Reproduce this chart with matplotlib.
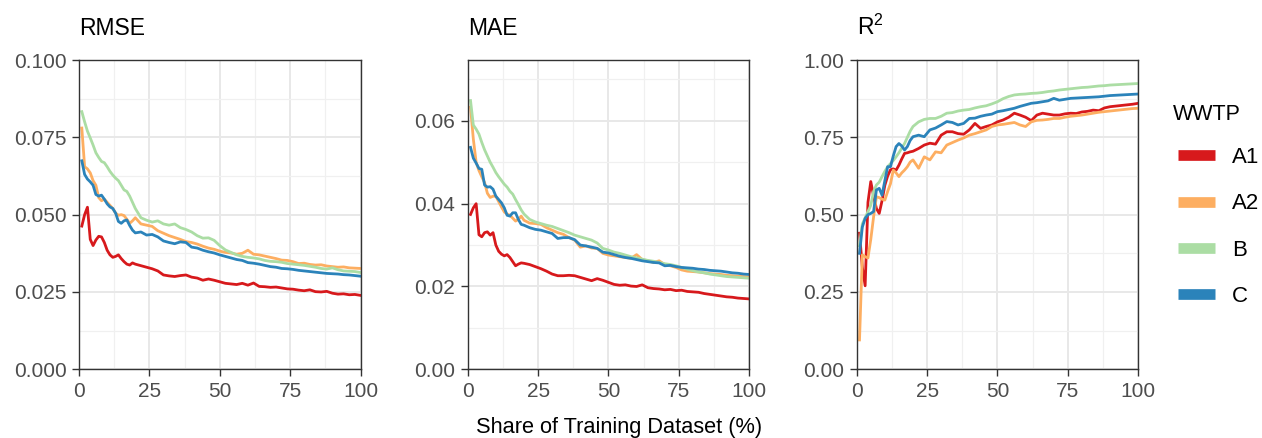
import matplotlib
matplotlib.use("Agg")
import matplotlib.pyplot as plt
from matplotlib.lines import Line2D
from matplotlib.ticker import MultipleLocator, FormatStrFormatter

plt.rcParams['font.family'] = ['Liberation Sans', 'DejaVu Sans']
plt.rcParams['mathtext.fontset'] = 'custom'
plt.rcParams['mathtext.rm'] = 'Liberation Sans'
plt.rcParams['mathtext.it'] = 'Liberation Sans'

# share of the training set (%) at which each model was evaluated
share = list(range(1, 21)) + list(range(22, 101, 2))

wwtp = ['A1', 'A2', 'B', 'C']
colors = ['#D7191C', '#FDAE61', '#ABDDA4', '#2B83BA']

rmse_a1 = [0.0463, 0.0500, 0.0524, 0.0420, 0.0400, 0.0418, 0.0430, 0.0428, 0.0410, 0.0385,
           0.0370, 0.0362, 0.0365, 0.0370, 0.0358, 0.0348, 0.0340, 0.0337, 0.0344, 0.0340,
           0.0335, 0.0330, 0.0325, 0.0318, 0.0305, 0.0302, 0.0300, 0.0303, 0.0305, 0.0298,
           0.0295, 0.0288, 0.0292, 0.0288, 0.0283, 0.0278, 0.0276, 0.0274, 0.0278, 0.0272,
           0.0279, 0.0268, 0.0267, 0.0265, 0.0266, 0.0263, 0.0260, 0.0259, 0.0256, 0.0254,
           0.0257, 0.0251, 0.0250, 0.0252, 0.0246, 0.0243, 0.0244, 0.0241, 0.0242, 0.0239]
rmse_a2 = [0.0780, 0.0655, 0.0648, 0.0635, 0.0610, 0.0595, 0.0555, 0.0545, 0.0550, 0.0540,
           0.0530, 0.0520, 0.0505, 0.0498, 0.0500, 0.0497, 0.0485, 0.0472, 0.0480, 0.0490,
           0.0470, 0.0466, 0.0462, 0.0448, 0.0440, 0.0432, 0.0426, 0.0420, 0.0413, 0.0410,
           0.0405, 0.0398, 0.0392, 0.0388, 0.0382, 0.0378, 0.0376, 0.0372, 0.0375, 0.0385,
           0.0372, 0.0370, 0.0366, 0.0362, 0.0358, 0.0353, 0.0352, 0.0348, 0.0342, 0.0343,
           0.0339, 0.0337, 0.0338, 0.0334, 0.0332, 0.0330, 0.0331, 0.0328, 0.0327, 0.0326]
rmse_b = [0.0833, 0.0800, 0.0770, 0.0748, 0.0725, 0.0700, 0.0685, 0.0672, 0.0668, 0.0655,
          0.0640, 0.0628, 0.0618, 0.0610, 0.0595, 0.0580, 0.0575, 0.0560, 0.0540, 0.0520,
          0.0490, 0.0482, 0.0476, 0.0480, 0.0470, 0.0466, 0.0470, 0.0458, 0.0452, 0.0444,
          0.0432, 0.0424, 0.0425, 0.0417, 0.0400, 0.0386, 0.0378, 0.0370, 0.0365, 0.0362,
          0.0360, 0.0357, 0.0352, 0.0349, 0.0348, 0.0346, 0.0342, 0.0340, 0.0338, 0.0336,
          0.0333, 0.0330, 0.0326, 0.0324, 0.0328, 0.0322, 0.0318, 0.0317, 0.0316, 0.0313]
rmse_c = [0.0674, 0.0630, 0.0615, 0.0606, 0.0595, 0.0565, 0.0560, 0.0563, 0.0550, 0.0535,
          0.0525, 0.0520, 0.0505, 0.0478, 0.0472, 0.0480, 0.0483, 0.0465, 0.0450, 0.0441,
          0.0444, 0.0434, 0.0436, 0.0428, 0.0415, 0.0410, 0.0406, 0.0412, 0.0410, 0.0395,
          0.0392, 0.0385, 0.0380, 0.0376, 0.0370, 0.0365, 0.0360, 0.0355, 0.0352, 0.0345,
          0.0343, 0.0340, 0.0336, 0.0332, 0.0330, 0.0326, 0.0325, 0.0323, 0.0320, 0.0318,
          0.0316, 0.0314, 0.0312, 0.0310, 0.0309, 0.0308, 0.0306, 0.0305, 0.0303, 0.0301]

mae_a1 = [0.0374, 0.0390, 0.0400, 0.0325, 0.0320, 0.0330, 0.0332, 0.0324, 0.0330, 0.0300,
          0.0285, 0.0278, 0.0274, 0.0277, 0.0270, 0.0260, 0.0250, 0.0254, 0.0257, 0.0256,
          0.0253, 0.0248, 0.0243, 0.0237, 0.0230, 0.0226, 0.0226, 0.0227, 0.0226, 0.0222,
          0.0218, 0.0214, 0.0219, 0.0215, 0.0210, 0.0205, 0.0203, 0.0204, 0.0201, 0.0200,
          0.0204, 0.0197, 0.0195, 0.0194, 0.0192, 0.0193, 0.0190, 0.0191, 0.0188, 0.0187,
          0.0186, 0.0183, 0.0181, 0.0179, 0.0177, 0.0175, 0.0174, 0.0172, 0.0171, 0.0170]
mae_a2 = [0.0633, 0.0556, 0.0500, 0.0480, 0.0465, 0.0451, 0.0425, 0.0415, 0.0418, 0.0418,
          0.0405, 0.0392, 0.0380, 0.0375, 0.0372, 0.0365, 0.0358, 0.0362, 0.0370, 0.0360,
          0.0353, 0.0352, 0.0350, 0.0342, 0.0336, 0.0330, 0.0326, 0.0318, 0.0312, 0.0295,
          0.0298, 0.0293, 0.0292, 0.0280, 0.0276, 0.0274, 0.0272, 0.0270, 0.0268, 0.0277,
          0.0265, 0.0262, 0.0258, 0.0262, 0.0253, 0.0250, 0.0246, 0.0240, 0.0237, 0.0236,
          0.0235, 0.0233, 0.0231, 0.0230, 0.0229, 0.0227, 0.0226, 0.0225, 0.0224, 0.0223]
mae_b = [0.0649, 0.0590, 0.0580, 0.0568, 0.0548, 0.0530, 0.0515, 0.0500, 0.0488, 0.0475,
         0.0465, 0.0456, 0.0447, 0.0440, 0.0430, 0.0423, 0.0410, 0.0398, 0.0385, 0.0375,
         0.0362, 0.0356, 0.0352, 0.0348, 0.0345, 0.0340, 0.0335, 0.0330, 0.0324, 0.0320,
         0.0316, 0.0312, 0.0305, 0.0292, 0.0288, 0.0283, 0.0280, 0.0276, 0.0272, 0.0269,
         0.0266, 0.0263, 0.0261, 0.0258, 0.0255, 0.0253, 0.0250, 0.0246, 0.0242, 0.0238,
         0.0235, 0.0233, 0.0230, 0.0228, 0.0226, 0.0224, 0.0223, 0.0222, 0.0221, 0.0220]
mae_c = [0.0536, 0.0510, 0.0498, 0.0485, 0.0483, 0.0445, 0.0440, 0.0441, 0.0435, 0.0418,
         0.0410, 0.0402, 0.0390, 0.0372, 0.0370, 0.0378, 0.0378, 0.0362, 0.0350, 0.0348,
         0.0342, 0.0338, 0.0336, 0.0332, 0.0328, 0.0316, 0.0318, 0.0318, 0.0313, 0.0300,
         0.0298, 0.0295, 0.0292, 0.0283, 0.0281, 0.0277, 0.0273, 0.0270, 0.0268, 0.0265,
         0.0262, 0.0260, 0.0258, 0.0257, 0.0250, 0.0251, 0.0248, 0.0246, 0.0245, 0.0244,
         0.0242, 0.0241, 0.0239, 0.0238, 0.0237, 0.0235, 0.0233, 0.0232, 0.0230, 0.0229]

r2_a1 = [0.440, 0.330, 0.270, 0.540, 0.607, 0.560, 0.520, 0.504, 0.545, 0.595,
         0.625, 0.645, 0.648, 0.644, 0.660, 0.680, 0.698, 0.700, 0.703, 0.705,
         0.714, 0.725, 0.731, 0.728, 0.757, 0.768, 0.768, 0.762, 0.760, 0.774,
         0.795, 0.779, 0.785, 0.790, 0.800, 0.806, 0.815, 0.828, 0.822, 0.815,
         0.804, 0.822, 0.828, 0.825, 0.822, 0.822, 0.826, 0.828, 0.827, 0.832,
         0.834, 0.838, 0.836, 0.845, 0.849, 0.851, 0.853, 0.855, 0.857, 0.860]
r2_a2 = [0.095, 0.370, 0.364, 0.360, 0.420, 0.493, 0.558, 0.555, 0.550, 0.547,
         0.575, 0.600, 0.644, 0.635, 0.623, 0.635, 0.644, 0.655, 0.670, 0.677,
         0.650, 0.687, 0.677, 0.703, 0.700, 0.725, 0.733, 0.741, 0.748, 0.757,
         0.762, 0.768, 0.774, 0.785, 0.790, 0.792, 0.795, 0.798, 0.790, 0.785,
         0.800, 0.805, 0.806, 0.808, 0.811, 0.811, 0.815, 0.818, 0.820, 0.822,
         0.825, 0.828, 0.831, 0.833, 0.835, 0.837, 0.839, 0.841, 0.843, 0.844]
r2_b = [0.400, 0.470, 0.490, 0.510, 0.530, 0.575, 0.596, 0.605, 0.623, 0.640,
        0.655, 0.665, 0.675, 0.687, 0.700, 0.715, 0.730, 0.750, 0.770, 0.785,
        0.800, 0.808, 0.811, 0.811, 0.818, 0.828, 0.830, 0.835, 0.838, 0.840,
        0.845, 0.849, 0.852, 0.858, 0.865, 0.875, 0.882, 0.887, 0.889, 0.890,
        0.892, 0.893, 0.895, 0.898, 0.900, 0.903, 0.905, 0.907, 0.909, 0.911,
        0.912, 0.914, 0.916, 0.917, 0.919, 0.920, 0.921, 0.922, 0.923, 0.924]
r2_c = [0.375, 0.460, 0.488, 0.500, 0.504, 0.510, 0.580, 0.585, 0.563, 0.610,
        0.655, 0.655, 0.690, 0.720, 0.730, 0.722, 0.709, 0.720, 0.740, 0.752,
        0.757, 0.752, 0.774, 0.780, 0.790, 0.801, 0.798, 0.790, 0.795, 0.811,
        0.812, 0.818, 0.822, 0.825, 0.833, 0.836, 0.840, 0.844, 0.850, 0.855,
        0.860, 0.862, 0.865, 0.868, 0.876, 0.870, 0.873, 0.876, 0.877, 0.878,
        0.879, 0.880, 0.881, 0.883, 0.885, 0.886, 0.887, 0.888, 0.889, 0.890]

panels = [
    ('RMSE', [rmse_a1, rmse_a2, rmse_b, rmse_c], 0.100, 0.025, '%.3f'),
    ('MAE', [mae_a1, mae_a2, mae_b, mae_c], 0.0747, 0.02, '%.2f'),
    ('R$^{2}$', [r2_a1, r2_a2, r2_b, r2_c], 1.00, 0.25, '%.2f'),
]

W, H = 1262, 438
fig = plt.figure(figsize=(W / 100, H / 100), dpi=100)
lefts = [79, 467.7, 856.7]
axes = []
for left, (title, series, ytop, ystep, fmt) in zip(lefts, panels):
    ax = fig.add_axes([left / W, (H - 369.3) / H, 281.5 / W, 309.3 / H])
    for vals, col, name in zip(series, colors, wwtp):
        ax.plot(share, vals, color=col, lw=2.0, label=name, solid_joinstyle='round')
    ax.set_xlim(0, 100)
    ax.set_ylim(0, ytop)
    ax.xaxis.set_major_locator(MultipleLocator(25))
    ax.xaxis.set_minor_locator(MultipleLocator(12.5))
    ax.yaxis.set_major_locator(MultipleLocator(ystep))
    ax.yaxis.set_minor_locator(MultipleLocator(ystep / 2))
    ax.yaxis.set_major_formatter(FormatStrFormatter(fmt))
    ax.grid(which='major', color='#E8E8E8', lw=1.4)
    ax.grid(which='minor', color='#F0F0F0', lw=0.9)
    ax.set_axisbelow(True)
    ax.tick_params(which='major', length=5, width=1.0, color='#333333',
                   labelsize=15, labelcolor='#4D4D4D', pad=4)
    ax.tick_params(which='minor', length=0)
    for sp in ax.spines.values():
        sp.set_color('#333333')
        sp.set_linewidth(1.0)
    ax.set_title(title, loc='left', fontsize=16.5, pad=18, color='black')
    axes.append(ax)

fig.text(619 / W, 5 / H, 'Share of Training Dataset (%)', ha='center', va='baseline',
         fontsize=15.7, color='black')

# legend: title placed separately so the keys sit slightly indented under it
fig.text(1173 / W, 1 - 120.5 / H, 'WWTP', ha='left', va='baseline', fontsize=15.5,
         color='black')
handles = [Line2D([], [], color=c, lw=7.7, solid_capstyle='butt') for c in colors]
leg = fig.legend(handles, wwtp, loc='center left', bbox_to_anchor=(1178 / W, 1 - 227 / H),
                 frameon=False, fontsize=16, handlelength=1.67, handletextpad=0.75,
                 labelspacing=1.145, borderpad=0, borderaxespad=0)

fig.savefig('out.png', dpi=100)
